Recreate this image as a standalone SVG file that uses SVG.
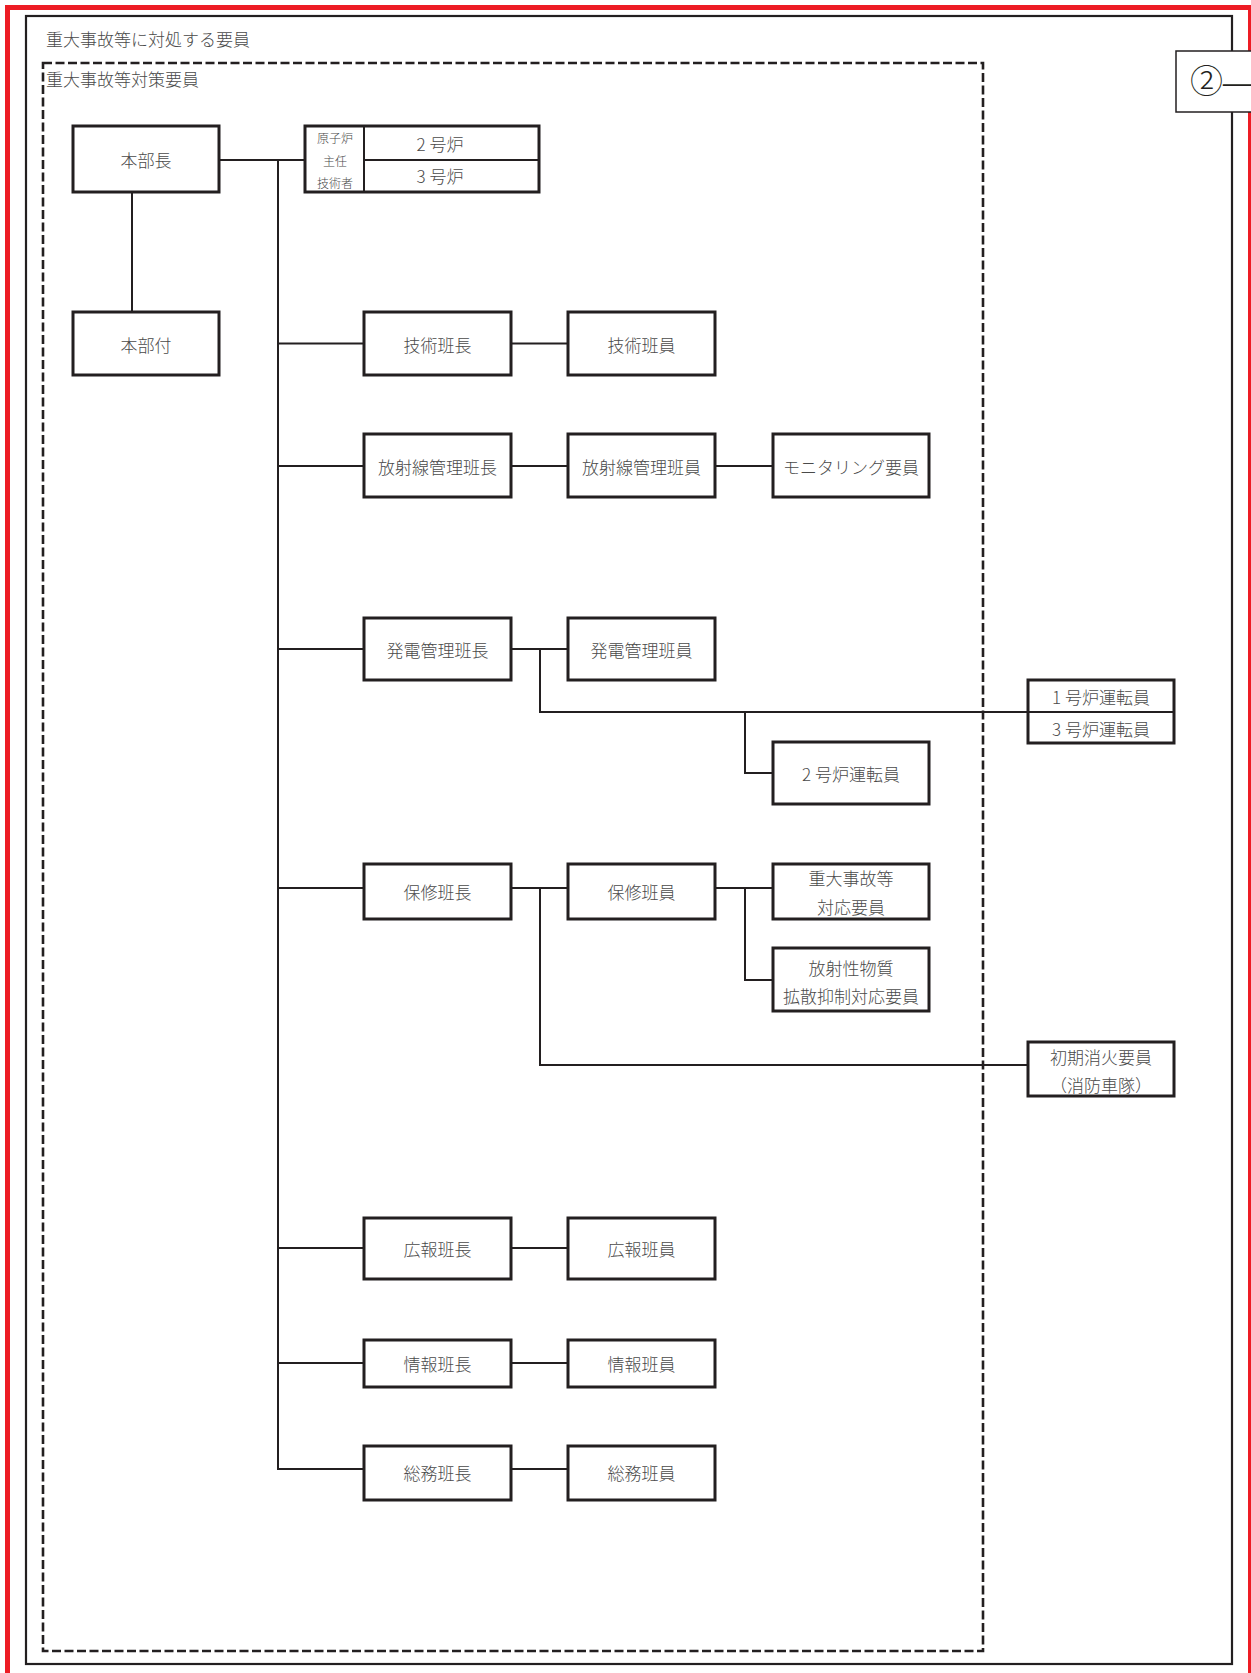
<svg xmlns="http://www.w3.org/2000/svg" width="1251" height="1673" viewBox="0 0 1251 1673">
<style>
.box{fill:#fff;stroke:#231f20;stroke-width:3}
.ln{stroke:#231f20;stroke-width:2;fill:none}
.t{font-family:"Noto Sans CJK JP","Noto Sans",sans-serif;font-size:17px;font-weight:300;fill:#4a4a4a;text-anchor:middle;dominant-baseline:central}
.s{font-family:"Noto Sans CJK JP","Noto Sans",sans-serif;font-size:12px;font-weight:300;fill:#4a4a4a;text-anchor:middle;dominant-baseline:central}
.lbl{font-family:"Noto Sans CJK JP","Noto Sans",sans-serif;font-size:17px;font-weight:300;fill:#4a4a4a}
</style>
<rect width="1251" height="1673" fill="#fff"/>
<g id="frames">
<rect x="7.5" y="7.5" width="1243" height="1700" fill="none" stroke="#ed1c24" stroke-width="5"/>
<rect x="26" y="16" width="1206" height="1648" fill="none" stroke="#231f20" stroke-width="2.2"/>
<text class="lbl" x="46" y="46">重大事故等に対処する要員</text>
<rect x="43" y="63" width="940" height="1588" fill="none" stroke="#231f20" stroke-width="2.6" stroke-dasharray="9 3.5"/>
<text class="lbl" x="46" y="86">重大事故等対策要員</text>
</g>
<g id="tag">
<rect x="1176" y="51" width="100" height="61" fill="#fff" stroke="#231f20" stroke-width="1.5"/>
<text x="1190" y="93" font-family="'Liberation Serif','DejaVu Serif','Noto Sans CJK JP',serif" font-size="33" font-weight="300" fill="#231f20">②―</text>
</g>
<g id="connectors">
<line class="ln" x1="132" y1="192" x2="132" y2="312"/>
<line class="ln" x1="219" y1="160" x2="305" y2="160"/>
<polyline class="ln" points="278,160 278,1469 364,1469"/>
<line class="ln" x1="278" y1="343.5" x2="364" y2="343.5"/>
<line class="ln" x1="278" y1="466" x2="364" y2="466"/>
<line class="ln" x1="278" y1="649" x2="364" y2="649"/>
<line class="ln" x1="278" y1="888" x2="364" y2="888"/>
<line class="ln" x1="278" y1="1248" x2="364" y2="1248"/>
<line class="ln" x1="278" y1="1363" x2="364" y2="1363"/>
<line class="ln" x1="511" y1="343.5" x2="568" y2="343.5"/>
<line class="ln" x1="511" y1="466" x2="568" y2="466"/>
<line class="ln" x1="715" y1="466" x2="773" y2="466"/>
<line class="ln" x1="511" y1="649" x2="568" y2="649"/>
<polyline class="ln" points="540,649 540,712 1028,712"/>
<polyline class="ln" points="745,712 745,773 773,773"/>
<line class="ln" x1="511" y1="888" x2="568" y2="888"/>
<line class="ln" x1="715" y1="888" x2="773" y2="888"/>
<polyline class="ln" points="745,888 745,980 773,980"/>
<polyline class="ln" points="540,888 540,1065 1028,1065"/>
<line class="ln" x1="511" y1="1248" x2="568" y2="1248"/>
<line class="ln" x1="511" y1="1363" x2="568" y2="1363"/>
<line class="ln" x1="511" y1="1469" x2="568" y2="1469"/>
</g>
<g id="n-honbucho"><rect class="box" x="73" y="126" width="146" height="66"/><text class="t" x="146" y="159">本部長</text></g>
<g id="n-honbuzuke"><rect class="box" x="73" y="312" width="146" height="63"/><text class="t" x="146" y="344">本部付</text></g>
<g id="n-shunin">
<rect class="box" x="305" y="126" width="234" height="66"/>
<line class="ln" x1="364" y1="126" x2="364" y2="192" stroke-width="3"/>
<line class="ln" x1="364" y1="160" x2="539" y2="160" stroke-width="3"/>
<text class="s" x="335" y="137">原子炉</text>
<text class="s" x="335" y="160">主任</text>
<text class="s" x="335" y="182">技術者</text>
<text class="t" x="440" y="143">2 号炉</text>
<text class="t" x="440" y="175">3 号炉</text>
</g>
<g id="n-gijutsu-cho"><rect class="box" x="364" y="312" width="147" height="63"/><text class="t" x="437.5" y="344">技術班長</text></g>
<g id="n-gijutsu-in"><rect class="box" x="568" y="312" width="147" height="63"/><text class="t" x="641.5" y="344">技術班員</text></g>
<g id="n-hoshasen-cho"><rect class="box" x="364" y="434" width="147" height="63"/><text class="t" x="437.5" y="466">放射線管理班長</text></g>
<g id="n-hoshasen-in"><rect class="box" x="568" y="434" width="147" height="63"/><text class="t" x="641.5" y="466">放射線管理班員</text></g>
<g id="n-monitoring"><rect class="box" x="773" y="434" width="156" height="63"/><text class="t" x="851" y="466">モニタリング要員</text></g>
<g id="n-hatsuden-cho"><rect class="box" x="364" y="618" width="147" height="62"/><text class="t" x="437.5" y="649">発電管理班長</text></g>
<g id="n-hatsuden-in"><rect class="box" x="568" y="618" width="147" height="62"/><text class="t" x="641.5" y="649">発電管理班員</text></g>
<g id="n-unten13">
<rect class="box" x="1028" y="680" width="146" height="63"/>
<line class="ln" x1="1028" y1="712" x2="1174" y2="712" stroke-width="3"/>
<text class="t" x="1101" y="696">1 号炉運転員</text>
<text class="t" x="1101" y="728">3 号炉運転員</text>
</g>
<g id="n-unten2"><rect class="box" x="773" y="742" width="156" height="62"/><text class="t" x="851" y="773">2 号炉運転員</text></g>
<g id="n-hoshu-cho"><rect class="box" x="364" y="864" width="147" height="55"/><text class="t" x="437.5" y="891">保修班長</text></g>
<g id="n-hoshu-in"><rect class="box" x="568" y="864" width="147" height="55"/><text class="t" x="641.5" y="891">保修班員</text></g>
<g id="n-juudai"><rect class="box" x="773" y="864" width="156" height="55"/><text class="t" x="851" y="877">重大事故等</text><text class="t" x="851" y="906">対応要員</text></g>
<g id="n-kakusan"><rect class="box" x="773" y="948" width="156" height="63"/><text class="t" x="851" y="967">放射性物質</text><text class="t" x="851" y="995">拡散抑制対応要員</text></g>
<g id="n-shoki"><rect class="box" x="1028" y="1042" width="146" height="54"/><text class="t" x="1101" y="1056">初期消火要員</text><text class="t" x="1101" y="1084">（消防車隊）</text></g>
<g id="n-koho-cho"><rect class="box" x="364" y="1218" width="147" height="61"/><text class="t" x="437.5" y="1248">広報班長</text></g>
<g id="n-koho-in"><rect class="box" x="568" y="1218" width="147" height="61"/><text class="t" x="641.5" y="1248">広報班員</text></g>
<g id="n-joho-cho"><rect class="box" x="364" y="1340" width="147" height="47"/><text class="t" x="437.5" y="1363">情報班長</text></g>
<g id="n-joho-in"><rect class="box" x="568" y="1340" width="147" height="47"/><text class="t" x="641.5" y="1363">情報班員</text></g>
<g id="n-somu-cho"><rect class="box" x="364" y="1446" width="147" height="54"/><text class="t" x="437.5" y="1472">総務班長</text></g>
<g id="n-somu-in"><rect class="box" x="568" y="1446" width="147" height="54"/><text class="t" x="641.5" y="1472">総務班員</text></g>
</svg>
